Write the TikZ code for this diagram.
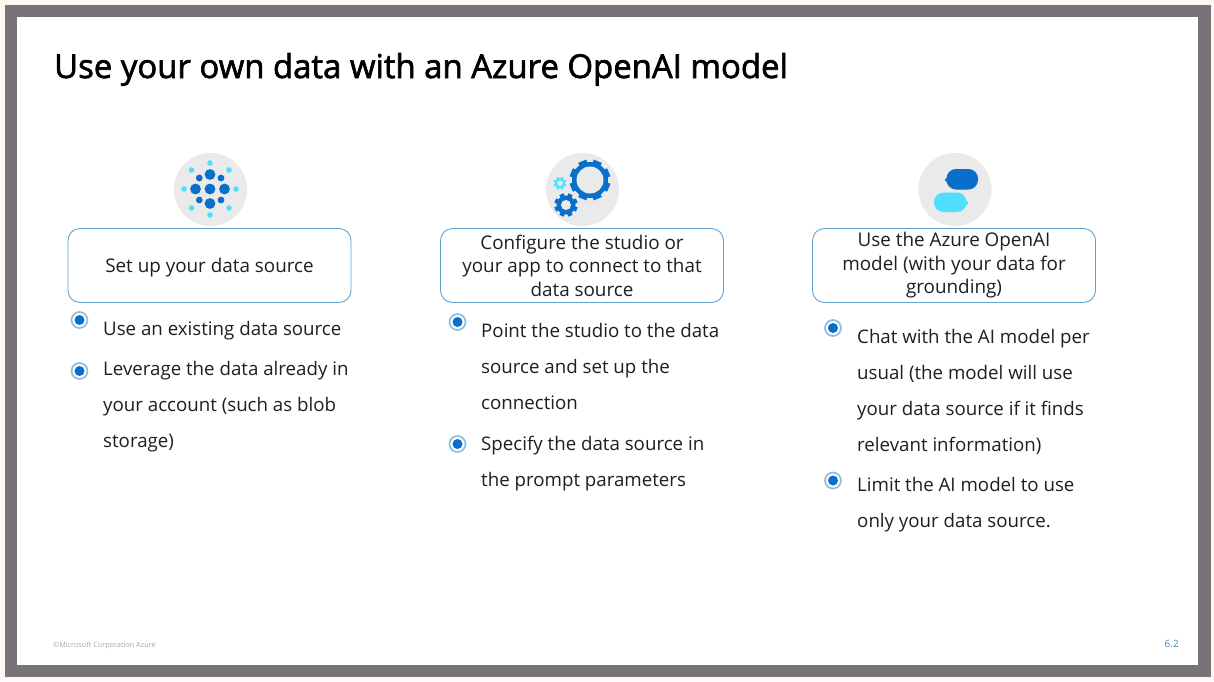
\documentclass[tikz,border=0pt]{standalone}
\usepackage{fontspec}
\setmainfont{Open Sans}
\newfontfamily\titlefont{Open Sans}[FakeBold=2]
\definecolor{pagebg}{HTML}{FFF8F2}
\definecolor{framegrey}{HTML}{767479}
\definecolor{boxline}{HTML}{5FA3CC}
\definecolor{azure}{HTML}{0A6FCB}
\definecolor{cyanlite}{HTML}{50DEFF}
\definecolor{disc}{HTML}{EAEAEA}
\definecolor{radioring}{HTML}{8FBEE0}
\definecolor{pagenum}{HTML}{3E8CC4}
\tikzset{
  x=1pt,y=-1pt,
  stepbox/.style={draw=boxline,line width=0.9pt,rounded corners=12pt,fill=white,minimum width=283pt,minimum height=74pt,inner sep=0pt,align=center,font=\fontsize{18.85}{24}\selectfont,text=black!88},
  body/.style={anchor=north west,inner sep=0pt,align=left,font=\fontsize{18.7}{36}\selectfont,text=black!88},
  icondisc/.style={circle,fill=disc,minimum size=73pt,inner sep=0pt},
  radio/.style={circle,draw=radioring,line width=1.7pt,fill=white,minimum size=16pt,inner sep=0pt,
    path picture={\fill[azure] (path picture bounding box.center) circle (5pt);}},
}
\newcommand{\gear}[6]{% x,y,ring outer,ring inner,colour,tooth length
  \foreach \a in {0,45,...,315}{
    \fill[#5,rotate around={\a+22.5:(#1,#2)}] (#1-#3*0.24,#2-#3-#6) rectangle (#1+#3*0.24,#2);
  }
  \fill[#5] (#1,#2) circle (#3);
  \fill[disc] (#1,#2) circle (#4);
}
\begin{document}
\begin{tikzpicture}
\useasboundingbox (0,0) rectangle (1214,681);
\fill[pagebg] (0,0) rectangle (1214,681);
\fill[framegrey] (5,5) rectangle (1211,677);
\fill[white] (17,17) rectangle (1198,665);
\node[anchor=base west,inner sep=0pt,font=\fontsize{32.9}{36}\selectfont\titlefont] (title) at (54,78) {Use your own data with an Azure OpenAI model};
% icons
\node[icondisc] (d1) at (210.5,189.5) {};
\node[icondisc] (d2) at (582.5,189.5) {};
\node[icondisc] (d3) at (955,189.5) {};
% icon 1
\foreach \x/\y in {210/189,195.5/189,224.5/189,210/174.5,210/203.5}{\fill[azure] (\x,\y) circle (5.4pt);}
\foreach \x/\y in {199.3/178,221/178,199.3/200,221/200}{\fill[azure] (\x,\y) circle (3.4pt);}
\foreach \x/\y in {210/163,210/215,184/189,236/189,191.5/170,229/170,191.5/208,229/208}{\fill[cyanlite] (\x,\y) circle (2.8pt);}
% icon 2
\gear{590}{180}{18}{13.5}{azure}{2.3}
\gear{566}{205}{9.5}{5}{azure}{2.2}
\gear{560}{183.3}{5}{2.8}{cyanlite}{1.5}
% icon 3
\fill[azure,rounded corners=9.5pt] (946.5,169) rectangle (978,189.5);
\fill[azure] (944.5,180) -- (948,176.5) -- (948,183.5) -- cycle;
\fill[cyanlite,rounded corners=9.5pt] (934,192.5) rectangle (966.5,212);
\fill[cyanlite] (968.5,203) -- (965,199.5) -- (965,206.5) -- cycle;
% boxes
\node[stepbox] (b1) at (209.5,265.5) {\raisebox{0pt}[\dimexpr\height+4pt\relax]{Set up your data source}};
\node[stepbox] (b2) at (582,265.5) {Configure the studio or\\[-0.5pt]your app to connect to that\\[-0.5pt]data source};
\node[stepbox] (b3) at (954,265.5) {Use the Azure OpenAI\\[-0.5pt]model (with your data for\\[-0.5pt]grounding)};
% bullets
\node[radio] (r11) at (79.5,320) {};
\node[radio] (r12) at (79.5,371) {};
\node[radio] (r21) at (457.5,322) {};
\node[radio] (r22) at (457.5,444) {};
\node[radio] (r31) at (833,328) {};
\node[radio] (r32) at (833,480.5) {};
\node[body] (t11) at (103,321) {Use an existing data source};
\node[body] (t12) at (103,361) {Leverage the data already in\\your account (such as blob\\storage)};
\node[body] (t21) at (481,323) {Point the studio to the data\\source and set up the\\connection};
\node[body] (t22) at (481,436) {Specify the data source in\\the prompt parameters};
\node[body] (t31) at (857,329) {Chat with the AI model per\\usual (the model will use\\your data source if it finds\\relevant information)};
\node[body] (t32) at (857,477) {Limit the AI model to use\\only your data source.};
\node[anchor=base west,inner sep=0pt,font=\fontsize{7.3}{8}\selectfont,text=black!35] (copy) at (53,647.5) {©Microsoft Corporation Azure};
\node[anchor=base east,inner sep=0pt,font=\fontsize{10}{12}\selectfont,text=pagenum] (num) at (1179,647) {6.2};
\end{tikzpicture}
\end{document}
